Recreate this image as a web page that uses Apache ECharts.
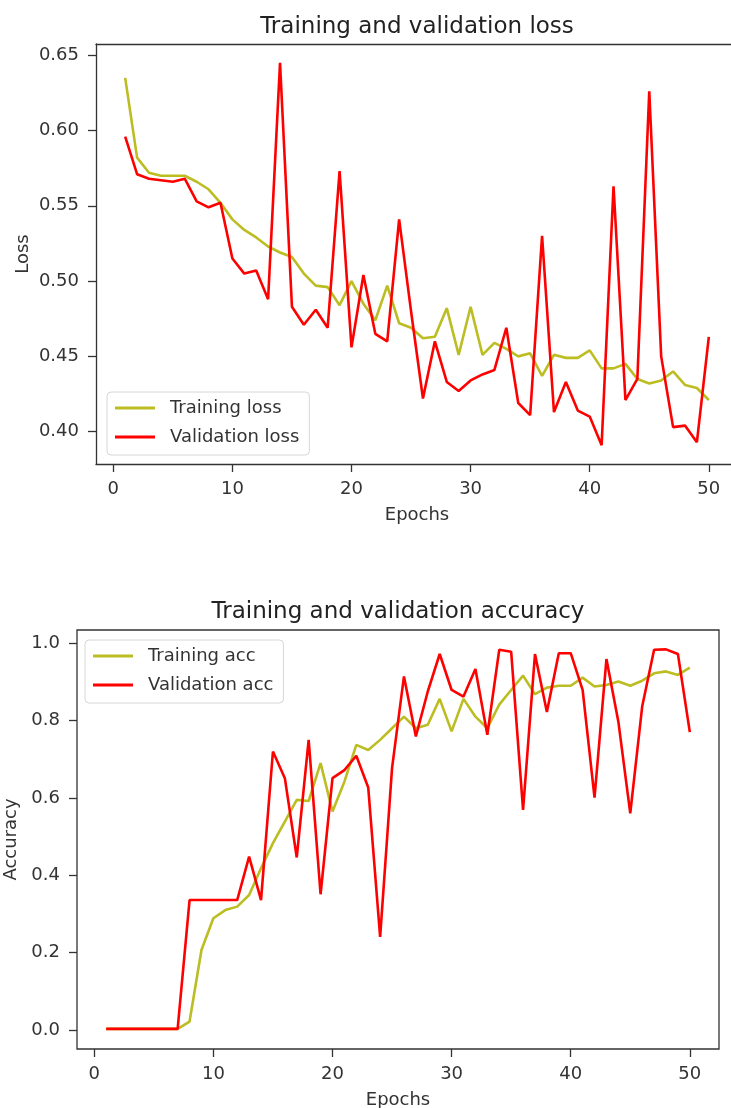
<!DOCTYPE html>
<html>
<head>
<meta charset="utf-8">
<script src="https://cdn.jsdelivr.net/npm/echarts@6/dist/echarts.min.js"></script>
<style>
  html, body { margin: 0; padding: 0; background: #fff; overflow: hidden; }
  #main { width: 731px; height: 1108px; }
</style>
</head>
<body>
<div id="main"></div>
<script>
// epochs 1..50
var epochs = [1, 2, 3, 4, 5, 6, 7, 8, 9, 10, 11, 12, 13, 14, 15, 16, 17, 18, 19, 20,
  21, 22, 23, 24, 25, 26, 27, 28, 29, 30, 31, 32, 33, 34, 35, 36, 37, 38, 39, 40,
  41, 42, 43, 44, 45, 46, 47, 48, 49, 50];

var lossTrain = [0.635, 0.582, 0.572, 0.570, 0.570, 0.570, 0.566, 0.561, 0.552, 0.541,
  0.534, 0.529, 0.523, 0.519, 0.516, 0.505, 0.497, 0.496, 0.484, 0.500,
  0.485, 0.474, 0.497, 0.472, 0.469, 0.462, 0.463, 0.482, 0.451, 0.483,
  0.451, 0.459, 0.455, 0.450, 0.452, 0.437, 0.451, 0.449, 0.449, 0.454,
  0.442, 0.442, 0.445, 0.435, 0.432, 0.434, 0.440, 0.431, 0.429, 0.421];

var lossVal = [0.596, 0.571, 0.568, 0.567, 0.566, 0.568, 0.553, 0.549, 0.552, 0.515,
  0.505, 0.507, 0.488, 0.645, 0.483, 0.471, 0.481, 0.469, 0.573, 0.456,
  0.504, 0.465, 0.460, 0.541, 0.480, 0.422, 0.460, 0.433, 0.427, 0.434,
  0.438, 0.441, 0.469, 0.419, 0.411, 0.530, 0.413, 0.433, 0.414, 0.410,
  0.391, 0.563, 0.421, 0.435, 0.626, 0.450, 0.403, 0.404, 0.393, 0.463];

var accTrain = [0.003, 0.003, 0.003, 0.003, 0.003, 0.003, 0.003, 0.022, 0.207, 0.289,
  0.310, 0.319, 0.349, 0.418, 0.483, 0.539, 0.595, 0.592, 0.690, 0.565,
  0.642, 0.737, 0.724, 0.750, 0.780, 0.810, 0.780, 0.789, 0.856, 0.772,
  0.856, 0.810, 0.780, 0.841, 0.879, 0.916, 0.868, 0.885, 0.890, 0.890,
  0.911, 0.888, 0.892, 0.901, 0.890, 0.903, 0.922, 0.927, 0.918, 0.937];

var accVal = [0.003, 0.003, 0.003, 0.003, 0.003, 0.003, 0.003, 0.336, 0.336, 0.336,
  0.336, 0.336, 0.448, 0.336, 0.720, 0.651, 0.446, 0.750, 0.351, 0.651,
  0.672, 0.709, 0.627, 0.241, 0.677, 0.914, 0.759, 0.875, 0.972, 0.879,
  0.862, 0.933, 0.763, 0.983, 0.978, 0.569, 0.972, 0.822, 0.974, 0.974,
  0.879, 0.601, 0.959, 0.797, 0.560, 0.836, 0.983, 0.984, 0.972, 0.770];

var xTicks = [0, 10, 20, 30, 40, 50];
var lossTicks = [0.40, 0.45, 0.50, 0.55, 0.60, 0.65];
var accTicks = [0.0, 0.2, 0.4, 0.6, 0.8, 1.0];

var FONT = 'DejaVu Sans';
var INK = '#333';
var OLIVE = '#bcbd22';
var RED = '#ff0000';

function pairs(ys) {
  return epochs.map(function (e, i) { return [e, ys[i]]; });
}

function xAxisFor(idx, showLine) {
  return {
    gridIndex: idx,
    type: 'value',
    min: -1.45,
    max: 52.45,
    name: 'Epochs',
    nameLocation: 'middle',
    nameGap: 42,
    nameMoveOverlap: false,
    nameTextStyle: { fontFamily: FONT, fontSize: 18, color: INK },
    axisLine: { show: showLine, onZero: false, lineStyle: { color: INK, width: 1.3 } },
    axisTick: { show: true, length: 8, customValues: xTicks, lineStyle: { color: INK, width: 1.3 } },
    axisLabel: { margin: 16, customValues: xTicks, fontFamily: FONT, fontSize: 18, color: INK },
    splitLine: { show: false }
  };
}

function yAxisFor(idx, name, min, max, ticks, digits, gap, showLine) {
  return {
    gridIndex: idx,
    type: 'value',
    min: min,
    max: max,
    name: name,
    nameLocation: 'middle',
    nameGap: gap,
    nameMoveOverlap: false,
    nameTextStyle: { fontFamily: FONT, fontSize: 18, color: INK },
    axisLine: { show: showLine, onZero: false, lineStyle: { color: INK, width: 1.3 } },
    axisTick: { show: true, length: 8, customValues: ticks, lineStyle: { color: INK, width: 1.3 } },
    axisLabel: {
      margin: 17, customValues: ticks, fontFamily: FONT, fontSize: 18, color: INK,
      formatter: function (v) { return v.toFixed(digits); }
    },
    splitLine: { show: false }
  };
}

function legendFor(names, left, top) {
  return {
    data: names,
    orient: 'vertical',
    left: left,
    top: top,
    icon: 'rect',
    itemWidth: 40,
    itemHeight: 3,
    itemGap: 11,
    padding: [7, 10, 9, 8],
    backgroundColor: 'rgba(255,255,255,0.85)',
    borderColor: '#d6d6d6',
    borderWidth: 1,
    borderRadius: 4,
    textStyle: { fontFamily: FONT, fontSize: 18, color: INK, padding: [0, 0, 0, 10] }
  };
}

function lineSeries(name, idx, ys, color) {
  return {
    name: name,
    type: 'line',
    xAxisIndex: idx,
    yAxisIndex: idx,
    data: pairs(ys),
    symbol: 'none',
    color: color,
    lineStyle: { color: color, width: 2.6 },
    animation: false
  };
}

var chart = echarts.init(document.getElementById('main'));

// top axes are cropped on the right in the original: spines drawn by axis lines
var topSpine = {
  gridIndex: 0,
  type: 'value',
  position: 'top',
  min: -1.45,
  max: 52.45,
  axisLine: { show: true, onZero: false, lineStyle: { color: INK, width: 1.3 } },
  axisTick: { show: false },
  axisLabel: { show: false },
  splitLine: { show: false }
};

var option = {
  backgroundColor: '#fff',
  animation: false,
  grid: [
    { left: 96, top: 44, width: 642, height: 420, outerBoundsMode: 'none', containLabel: false,
      show: false },
    { left: 77, top: 630, width: 642, height: 419, outerBoundsMode: 'none', containLabel: false,
      show: true, borderColor: INK, borderWidth: 1.3, backgroundColor: '#fff' }
  ],
  xAxis: [xAxisFor(0, true), xAxisFor(1, false), topSpine],
  yAxis: [
    yAxisFor(0, 'Loss', 0.3785, 0.6575, lossTicks, 2, 64, true),
    yAxisFor(1, 'Accuracy', -0.049, 1.034, accTicks, 1, 57, false)
  ],
  legend: [
    legendFor(['Training loss', 'Validation loss'], 107, 392),
    legendFor(['Training acc', 'Validation acc'], 85, 640)
  ],
  graphic: [
    { type: 'text', x: 417, y: 27, style: { text: 'Training and validation loss', fontFamily: FONT, fontSize: 23, fill: '#222', align: 'center', verticalAlign: 'middle' } },
    { type: 'text', x: 398, y: 612, style: { text: 'Training and validation accuracy', fontFamily: FONT, fontSize: 23, fill: '#222', align: 'center', verticalAlign: 'middle' } }
  ],
  series: [
    lineSeries('Training loss', 0, lossTrain, OLIVE),
    lineSeries('Validation loss', 0, lossVal, RED),
    lineSeries('Training acc', 1, accTrain, OLIVE),
    lineSeries('Validation acc', 1, accVal, RED)
  ]
};

chart.setOption(option);
</script>
</body>
</html>
